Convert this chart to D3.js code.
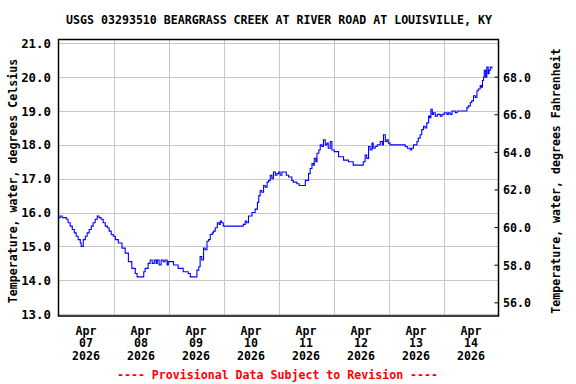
<!DOCTYPE html>
<html><head><meta charset="utf-8">
<script src="https://cdn.jsdelivr.net/npm/d3@7"></script>
<style>
html,body{margin:0;padding:0;background:#fff;}
text{font-family:"DejaVu Sans Mono",monospace;font-weight:bold;fill:#000;}
</style></head>
<body><svg id="c" width="576" height="384"></svg>
<script>
const title = "USGS 03293510 BEARGRASS CREEK AT RIVER ROAD AT LOUISVILLE, KY";
const leftTitle = "Temperature, water, degrees Celsius";
const rightTitle = "Temperature, water, degrees Fahrenheit";
const footer = "---- Provisional Data Subject to Revision ----";
const startDate = new Date(2026, 3, 7, 0, 0);
const endDate = new Date(2026, 3, 15, 0, 0);
const dayLabels = ["07","08","09","10","11","12","13","14"];
const celsiusTicks = [13,14,15,16,17,18,19,20,21];
const fahrenheitTicks = [56,58,60,62,64,66,68];
// hours since Apr 07 2026 00:00
const hours = [0,0.7,1.6,2.6,3.4,4.2,5.1,6.0,6.9,7.7,8.6,9.5,9.9,10.8,11.7,12.5,13.4,14.3,15.1,16.0,16.9,17.7,18.6,19.5,20.4,21.3,22.1,23.0,23.9,24.8,26.1,27.7,29.1,30.5,32.0,33.5,34.3,36.5,37.2,37.8,39.1,40.0,40.9,41.8,42.6,43.1,43.9,44.8,45.7,46.5,47.4,47.9,50.2,52.2,54.4,56.6,57.5,59.7,60.4,61.2,61.8,62.5,63.3,64.0,64.8,65.5,66.2,67.1,67.6,68.4,69.3,70.1,70.6,71.2,71.9,72.7,80.0,80.6,81.5,82.1,82.9,84.4,85.8,86.8,87.4,88.0,88.7,89.5,90.2,91.0,91.7,92.4,93.1,93.8,94.6,95.3,96.1,96.7,97.5,98.5,99.4,100.4,101.8,102.4,104.0,105.0,107.2,107.7,109.1,109.8,110.6,111.2,111.6,112.3,112.8,113.6,114.2,114.9,115.6,116.4,117.1,117.7,118.6,119.3,120.3,122.2,124.4,126.5,128.6,132.4,133.0,133.8,134.5,135.3,136.0,136.8,137.3,138.2,139.1,140.4,141.3,141.8,142.6,143.3,143.9,144.7,146.9,149.1,151.3,152.2,153.5,154.1,154.9,156.4,157.0,157.8,158.5,159.3,160.0,160.7,161.5,162.0,162.5,163.1,163.6,164.4,165.3,166.6,167.4,168.3,169.5,170.1,170.9,171.7,173.1,174.0,177.5,178.2,178.8,179.7,180.3,181.1,181.9,182.6,183.2,184.0,184.5,185.0,185.5,185.8,186.4,186.9,187.5,187.9,188.4,189.1];
const tempC = [15.85,15.9,15.85,15.85,15.8,15.7,15.6,15.5,15.4,15.3,15.2,15.1,15.0,15.2,15.3,15.4,15.5,15.6,15.7,15.8,15.9,15.85,15.8,15.7,15.6,15.55,15.45,15.35,15.3,15.2,15.1,14.95,14.8,14.55,14.35,14.2,14.1,14.1,14.25,14.35,14.5,14.6,14.5,14.6,14.5,14.6,14.45,14.6,14.55,14.6,14.45,14.55,14.45,14.35,14.25,14.2,14.1,14.1,14.3,14.4,14.7,14.6,14.95,14.9,15.15,15.2,15.35,15.4,15.45,15.55,15.7,15.65,15.75,15.7,15.6,15.6,15.6,15.65,15.75,15.7,15.9,16.0,16.1,16.3,16.5,16.65,16.6,16.8,16.75,16.9,16.95,17.1,17.0,17.2,17.1,17.15,17.2,17.1,17.2,17.2,17.1,17.05,16.95,16.9,16.85,16.8,16.8,16.95,17.15,17.3,17.45,17.4,17.6,17.5,17.75,17.85,18.0,17.95,18.15,18.0,18.05,17.9,18.1,17.85,17.8,17.65,17.55,17.5,17.4,17.4,17.5,17.7,17.6,17.95,17.85,18.05,17.9,17.95,18.0,18.1,18.0,18.3,18.1,18.15,18.05,18.0,18.0,18.0,17.95,17.9,17.85,17.9,18.0,18.1,18.2,18.3,18.45,18.55,18.5,18.65,18.85,18.8,19.05,18.9,18.95,18.85,18.9,18.85,18.9,18.95,18.9,18.95,18.9,19.0,18.95,19.0,19.0,19.1,19.15,19.25,19.3,19.45,19.4,19.6,19.65,19.75,19.7,19.9,20.0,20.2,20.0,20.3,20.1,20.2,20.3,20.25];

const FS = 11.6;
const svg = d3.select("#c");
const L = 58.5, R = 498.5, T = 39.5, B = 316;
const x = d3.scaleTime().domain([startDate, endDate]).range([L, R]);
const y = d3.scaleLinear().domain([13, 21]).range([314.1, 43.3]);
const yF = d3.scaleLinear().domain([13*1.8+32, 21*1.8+32]).range([314.1, 43.3]);

const data = hours.map((h,i)=>({t:new Date(startDate.getTime()+h*3600e3), v:tempC[i]}));

// gridlines
const g = svg.append("g");
g.selectAll("line.h").data(celsiusTicks).enter().append("line")
  .attr("x1",L).attr("x2",R).attr("y1",d=>Math.round(y(d))+0.5).attr("y2",d=>Math.round(y(d))+0.5)
  .attr("stroke","#c8c8c8").attr("stroke-width",1);
const days = d3.timeDay.range(d3.timeDay.offset(startDate,1), endDate);
g.selectAll("line.v").data(days).enter().append("line")
  .attr("y1",T).attr("y2",B).attr("x1",d=>Math.round(x(d))+0.5).attr("x2",d=>Math.round(x(d))+0.5)
  .attr("stroke","#c8c8c8").attr("stroke-width",1);

// data line
const line = d3.line().x(d=>x(d.t)).y(d=>y(d.v)).curve(d3.curveStepAfter);
svg.append("path").datum(data).attr("d",line).attr("fill","none").attr("stroke","#0000ff").attr("stroke-width",1.1);

// frame
svg.append("rect").attr("x",L).attr("y",T).attr("width",R-L).attr("height",B-T)
  .attr("fill","none").attr("stroke","#000").attr("stroke-width",1.5);

// left axis labels
svg.append("g").selectAll("text").data(celsiusTicks).enter().append("text")
  .attr("x",51).attr("y",d=>y(d)+4.5).attr("text-anchor","end").attr("font-size",12.4)
  .text(d=>d.toFixed(1));

// right axis
const ra = svg.append("g");
ra.selectAll("line").data(fahrenheitTicks).enter().append("line")
  .attr("x1",R-4).attr("x2",R).attr("y1",d=>yF(d)).attr("y2",d=>yF(d)).attr("stroke","#000");
ra.selectAll("text").data(fahrenheitTicks).enter().append("text")
  .attr("x",503).attr("y",d=>yF(d)+4.5).attr("font-size",FS).text(d=>d.toFixed(1));

// x labels (three lines each)
const noon = dayLabels.map((d,i)=>d3.timeHour.offset(startDate, i*24+12));
const lines3 = [["Apr",334.5],["day",347],["year",359.5]];
const xg = svg.append("g");
noon.forEach((d,i)=>{
  const cx = x(d);
  const txt = [ "Apr", dayLabels[i], d3.timeFormat("%Y")(d) ];
  txt.forEach((s,j)=>{
    xg.append("text").attr("x",cx).attr("y",lines3[j][1]).attr("text-anchor","middle")
      .attr("font-size",FS).text(s);
  });
});

// titles
svg.append("text").attr("x",279).attr("y",23.5).attr("text-anchor","middle").attr("font-size",FS).text(title);
svg.append("text").attr("transform","translate(16.5,181) rotate(-90)").attr("text-anchor","middle").attr("font-size",FS).text(leftTitle);
svg.append("text").attr("transform","translate(560,181) rotate(-90)").attr("text-anchor","middle").attr("font-size",FS).text(rightTitle);
svg.append("text").attr("x",277.5).attr("y",379).attr("text-anchor","middle").attr("font-size",FS).style("fill","#ff0000").text(footer);
</script></body></html>
